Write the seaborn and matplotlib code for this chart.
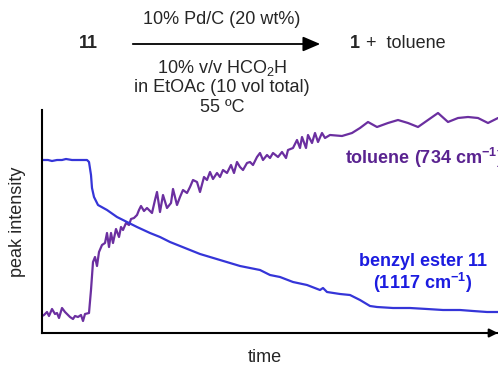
import matplotlib
matplotlib.use("Agg")
import matplotlib.pyplot as plt
import seaborn as sns
import pandas as pd

# toluene (734 cm-1) trace, arbitrary units
toluene_t = [0, 2, 5, 7, 10, 13, 15, 17, 20, 23, 25, 28, 31, 33, 36, 39, 41, 43, 47,
             49, 51, 53, 55, 57, 60, 63, 65, 67, 69, 71, 74, 77, 79, 81, 84, 87, 89, 92,
             95, 97, 99, 102, 105, 108, 110, 113, 115, 118, 121, 125, 129, 131, 135, 138,
             141, 145, 148, 151, 155, 158, 162, 165, 168, 171, 175, 178, 181, 185, 189,
             192, 195, 198, 201, 205, 208, 211, 215, 218, 221, 225, 228, 231, 236, 240,
             244, 246, 251, 255, 258, 260, 264, 266, 270, 273, 276, 280, 283, 288, 300,
             310, 318, 326, 335, 346, 356, 366, 376, 386, 396, 406, 416, 426, 436, 446, 456]
toluene_i = [17, 18, 21, 17, 24, 19, 20, 15, 25, 21, 19, 16, 14, 17, 16, 18, 12, 19, 20,
             43, 71, 76, 67, 81, 88, 90, 100, 86, 100, 90, 104, 96, 106, 103, 110, 108, 114, 115,
             118, 123, 127, 122, 125, 122, 120, 133, 141, 121, 138, 125, 130, 144, 128, 136,
             143, 140, 146, 153, 151, 141, 156, 153, 161, 154, 160, 156, 163, 160, 168,
             160, 171, 166, 163, 170, 171, 168, 176, 180, 173, 178, 175, 180, 176, 181,
             175, 183, 185, 193, 185, 196, 185, 198, 190, 200, 191, 200, 195, 198, 197,
             200, 205, 211, 206, 210, 213, 210, 206, 213, 220, 211, 215, 216, 215, 210, 215]

# benzyl ester 11 (1117 cm-1) trace, arbitrary units
ester_t = [0, 6, 10, 15, 20, 24, 30, 38, 45, 47, 49, 50, 52, 56, 65, 75, 85, 95, 108,
           118, 128, 138, 148, 158, 168, 178, 188, 198, 208, 218, 228, 238, 251, 265,
           278, 281, 285, 298, 308, 318, 328, 335, 351, 368, 385, 401, 418, 431, 445, 456]
ester_i = [173, 173, 172, 173, 173, 174, 173, 173, 173, 171, 158, 145, 136, 128, 123, 116,
           111, 106, 100, 96, 91, 87, 83, 79, 76, 73, 70, 67, 65, 63, 58, 56, 51, 48,
           43, 45, 41, 39, 38, 33, 27, 26, 25, 25, 24, 23, 23, 22, 21, 21]

df_tol = pd.DataFrame({"time": toluene_t, "intensity": toluene_i})
df_est = pd.DataFrame({"time": ester_t, "intensity": ester_i})

sns.set_style("white")
plt.rcParams["font.family"] = ["Liberation Sans", "DejaVu Sans"]
plt.rcParams["mathtext.fontset"] = "custom"
plt.rcParams["mathtext.rm"] = "Liberation Sans"
plt.rcParams["mathtext.it"] = "Liberation Sans:italic"
plt.rcParams["mathtext.bf"] = "Liberation Sans:bold"

W, H = 498, 367
fig = plt.figure(figsize=(W / 100, H / 100), dpi=100)
ax = fig.add_axes([42 / W, 1 - 333 / H, 1 - 42 / W, (333 - 110) / H])

purple = "#6b2fa0"
blue = "#3535d8"
sns.lineplot(data=df_tol, x="time", y="intensity", ax=ax, color=purple, lw=1.6)
sns.lineplot(data=df_est, x="time", y="intensity", ax=ax, color=blue, lw=1.6)

ax.set_xlim(0, 456)
ax.set_ylim(0, 223)
ax.set_xticks([])
ax.set_yticks([])
ax.set_xlabel("")
ax.set_ylabel("")
for s in ["top", "right"]:
    ax.spines[s].set_visible(False)
for s in ["left", "bottom"]:
    ax.spines[s].set_color("black")
    ax.spines[s].set_linewidth(1.5)

def fx(x):
    return x / W

def fy(y):
    return 1 - y / H

fs = 13
fig.text(fx(18), fy(222), "peak intensity", rotation=90, ha="center", va="center", fontsize=fs)
fig.text(fx(265), fy(358), "time", ha="center", va="center", fontsize=fs)

fig.text(fx(345), fy(158), r"toluene (734 cm$^{\mathbf{-1}}$)", ha="left", va="center",
         fontsize=fs, fontweight="bold", color="#5a2390")
fig.text(fx(423), fy(262), "benzyl ester 11", ha="center", va="center",
         fontsize=fs, fontweight="bold", color="#1c1ce0")
fig.text(fx(423), fy(283), r"(1117 cm$^{\mathbf{-1}}$)", ha="center", va="center",
         fontsize=fs, fontweight="bold", color="#1c1ce0")

# reaction scheme
fig.text(fx(88), fy(44), "11", ha="center", va="center", fontsize=fs, fontweight="bold")
fig.text(fx(222), fy(20), "10% Pd/C (20 wt%)", ha="center", va="center", fontsize=fs)
fig.text(fx(222), fy(68), "10% v/v HCO$_2$H", ha="center", va="center", fontsize=fs)
fig.text(fx(222), fy(88), "in EtOAc (10 vol total)", ha="center", va="center", fontsize=fs)
fig.text(fx(222), fy(107), "55 ºC", ha="center", va="center", fontsize=fs)
fig.text(fx(355), fy(44), "1", ha="center", va="center", fontsize=fs, fontweight="bold")
fig.text(fx(366), fy(44), "+  toluene", ha="left", va="center", fontsize=fs)
fig.patches.append(matplotlib.patches.FancyArrowPatch(
    (fx(130), fy(44)), (fx(323), fy(44)), transform=fig.transFigure,
    arrowstyle="-|>,head_length=7,head_width=3", mutation_scale=1.5,
    color="black", lw=1.3))

# x axis arrowhead at right edge
ax.annotate("", xy=(1.006, 0), xytext=(0.97, 0), xycoords="axes fraction",
            arrowprops=dict(arrowstyle="-|>,head_length=0.5,head_width=0.25",
                            color="black", lw=1.5), annotation_clip=False)

fig.savefig("out.png", dpi=100)
